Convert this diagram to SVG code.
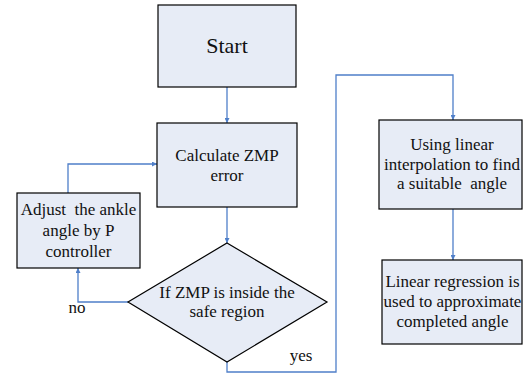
<svg xmlns="http://www.w3.org/2000/svg" width="523" height="377" viewBox="0 0 523 377">
  <style>
    .box { fill: #e7ecf6; stroke: #000; stroke-width: 1.2; }
    text { font-family: 'Liberation Serif', 'DejaVu Serif', serif; font-size: 17px; fill: #111; text-anchor: middle; }
    .big { font-size: 22px; }
    .edge { fill: none; stroke: #4f7fc9; stroke-width: 1.3; marker-end: url(#arrow); }
  </style>
  <defs>
    <marker id="arrow" viewBox="0 0 6 6" refX="6" refY="3" markerWidth="5" markerHeight="5" orient="auto" markerUnits="userSpaceOnUse">
      <path d="M0,0 L6,3 L0,6 z" fill="#4f7fc9"/>
    </marker>
  </defs>

  <g id="connectors">
    <path class="edge" d="M227,87 V123"/>
    <path class="edge" d="M227,207 V243"/>
    <path class="edge" d="M128,302 H78 V268"/>
    <path class="edge" d="M68,193 V164 H157"/>
    <path class="edge" d="M227,362 V372 H336 V75 H453 V120"/>
    <path class="edge" d="M453,209 V260"/>
  </g>

  <g id="start">
    <rect class="box" x="158" y="5" width="138" height="82"/>
    <text class="big" x="227" y="53" font-family="Liberation Serif, DejaVu Serif, serif">Start</text>
  </g>

  <g id="calc-error" font-family="Liberation Serif, DejaVu Serif, serif">
    <rect class="box" x="157" y="123" width="140" height="84"/>
    <text x="227" y="161">Calculate ZMP</text>
    <text x="227" y="181">error</text>
  </g>

  <g id="adjust-angle">
    <rect class="box" x="17" y="193" width="123" height="75"/>
    <text x="78.5" y="215" xml:space="preserve">Adjust  the ankle</text>
    <text x="78.5" y="236">angle by P</text>
    <text x="78.5" y="257">controller</text>
  </g>

  <g id="check-zmp">
    <polygon class="box" points="227,243 327,302 227,362 128,302"/>
    <text x="227" y="298">If ZMP is inside the</text>
    <text x="227" y="317">safe region</text>
    <text x="77" y="313">no</text>
    <text x="301" y="361">yes</text>
  </g>

  <g id="interpolation">
    <rect class="box" x="379" y="120" width="143" height="89"/>
    <text x="452" y="150">Using linear</text>
    <text x="452" y="170">interpolation to find</text>
    <text x="452" y="189" xml:space="preserve">a suitable  angle</text>
  </g>

  <g id="regression">
    <rect class="box" x="382" y="260" width="140" height="84"/>
    <text x="452.5" y="287">Linear regression is</text>
    <text x="452.5" y="307">used to approximate</text>
    <text x="452.5" y="327">completed angle</text>
  </g>
</svg>
